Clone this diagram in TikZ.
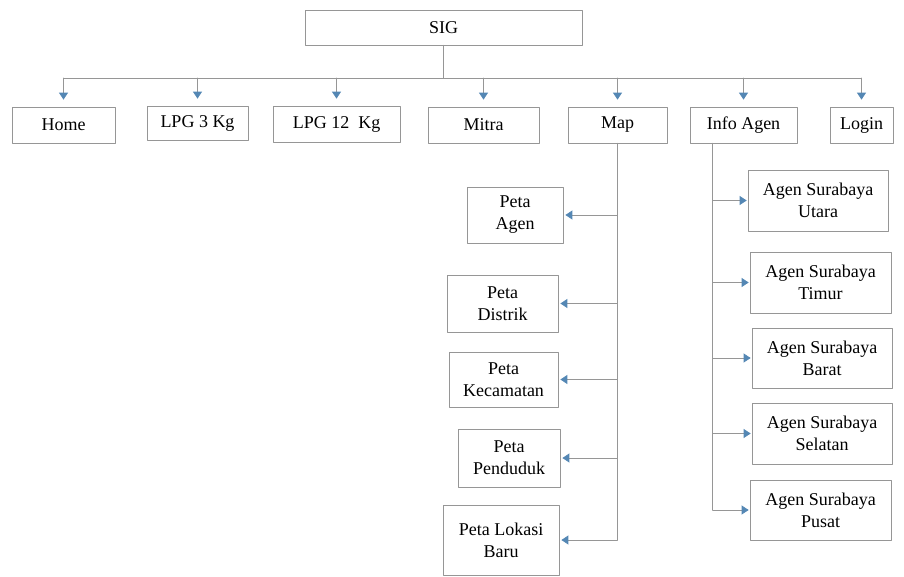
\documentclass[tikz,border=0pt]{standalone}
\usepackage{fontspec}
\setmainfont{Liberation Serif}
\usetikzlibrary{arrows.meta,positioning,calc}
\definecolor{tipblue}{RGB}{84,135,180}
\definecolor{edgegray}{RGB}{150,150,150}

\begin{document}
\begin{tikzpicture}[x=1pt,y=-1pt,line cap=round,line join=round,
  menu/.style={draw=edgegray,line width=.7pt,font=\fontsize{18}{22}\selectfont,align=center,inner sep=0pt},
  wire/.style={draw=edgegray,line width=.8pt},
  link/.style={wire,-{Triangle[length=7pt,width=9pt,color=tipblue]}}]
  \useasboundingbox (0,0) rectangle (904,577);
  % Root and first level.
  \node[menu,minimum width=277pt,minimum height=35pt] (sig) at (443.5,27.5) {SIG};
  \node[menu,minimum width=103pt,minimum height=36pt] (home) at (63.5,125) {Home};
  \node[menu,minimum width=101pt,minimum height=34pt] (lpg3) at (197.5,123) {LPG 3 Kg};
  \node[menu,minimum width=127pt,minimum height=36pt] (lpg12) at (336.5,124) {LPG 12~~Kg};
  \node[menu,minimum width=111pt,minimum height=36pt] (mitra) at (483.5,125) {Mitra};
  \node[menu,minimum width=99pt,minimum height=36pt] (map) at (617.5,125) {Map};
  \node[menu,minimum width=107pt,minimum height=36pt] (info) at (743.5,125) {Info Agen};
  \node[menu,minimum width=63pt,minimum height=36pt] (login) at (861.5,125) {Login};
  \coordinate (bus) at (0,78);
  \draw[wire] (sig.south) -- (sig.south |- bus);
  \draw[wire] (home.north |- bus) -- (login.north |- bus);
  \foreach \n in {home,lpg3,lpg12,mitra,map,info,login}
    \draw[link,shorten >=7pt] (\n.north |- bus) -- (\n.north);

  % Map pages.
  \node[menu,minimum width=96pt,minimum height=56pt] (agen) at (515,215) {Peta\\Agen};
  \node[menu,minimum width=111pt,minimum height=57pt] (distrik) at (502.5,303.5) {Peta\\Distrik};
  \node[menu,minimum width=109pt,minimum height=55pt] (kecamatan) at (503.5,379.5) {Peta\\Kecamatan};
  \node[menu,minimum width=102pt,minimum height=58pt] (penduduk) at (509,458) {Peta\\Penduduk};
  \node[menu,minimum width=116pt,minimum height=70pt] (lokasi) at (501,540) {Peta Lokasi\\Baru};
  \draw[wire] (map.south) -- (map.south |- lokasi.east);
  \foreach \n in {agen,distrik,kecamatan,penduduk,lokasi}
    \draw[link,shorten >=2pt] (map.south |- \n.east) -- (\n.east);

  % Agent pages.
  \node[menu,minimum width=140pt,minimum height=61pt] (utara) at (818,200.5) {Agen Surabaya\\Utara};
  \node[menu,minimum width=141pt,minimum height=61pt] (timur) at (820.5,282.5) {Agen Surabaya\\Timur};
  \node[menu,minimum width=140pt,minimum height=60pt] (barat) at (822,358) {Agen Surabaya\\Barat};
  \node[menu,minimum width=140pt,minimum height=61pt] (selatan) at (822,433.5) {Agen Surabaya\\Selatan};
  \node[menu,minimum width=141pt,minimum height=60pt] (pusat) at (820.5,510) {Agen Surabaya\\Pusat};
  \coordinate (trunk) at ([xshift=23pt]info.south west);
  \draw[wire] (trunk) -- (trunk |- pusat.west);
  \foreach \n in {utara,timur,barat,selatan,pusat}
    \draw[link,shorten >=1pt] (trunk |- \n.west) -- (\n.west);
\end{tikzpicture}
\end{document}
